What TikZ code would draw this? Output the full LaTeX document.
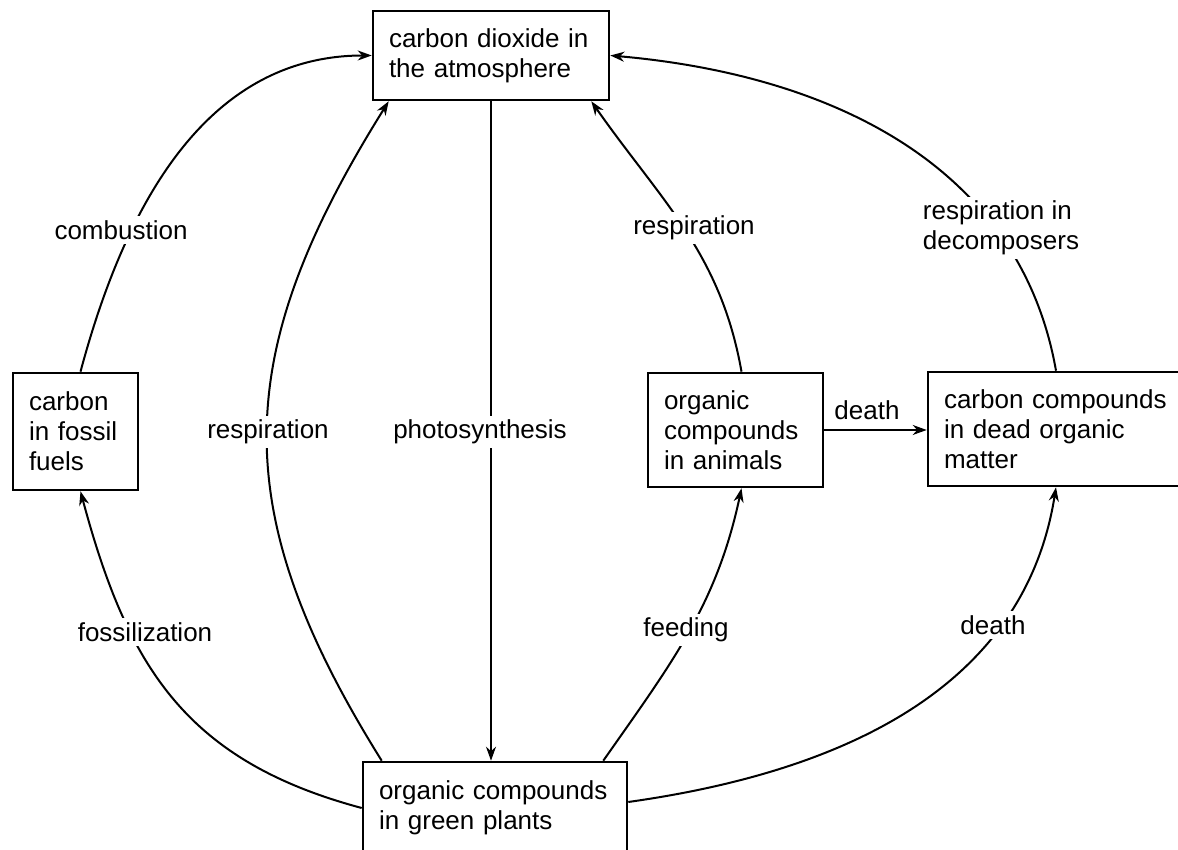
\documentclass[tikz,border=0pt]{standalone}
\usepackage{fontspec}
\setmainfont{Liberation Sans}
\usetikzlibrary{arrows.meta,calc}

\tikzset{
  box/.style={draw, line width=1.3pt, align=left, inner xsep=8pt, inner ysep=0pt},
  flow/.style={line width=1pt, -{Stealth[length=7pt,width=5pt]}},
  lbl/.style={fill=white, inner sep=2pt, align=left}
}

\begin{document}
\begin{tikzpicture}[x=0.5pt, y=0.5pt, font=\fontsize{13}{15}\selectfont]
            \useasboundingbox (0,0) rectangle (1178,850);
            \clip (0,0) rectangle (1178,850);

            % the five stores of carbon
            \node[box, text width=102pt, minimum height=44.5pt] (co2) at (491,794.5) {carbon dioxide in\\the atmosphere};
            \node[box, text width=46.5pt, minimum height=58.5pt] (fossil) at (75.5,418.5) {carbon\\in fossil\\fuels};
            \node[box, text width=71.5pt, minimum height=57pt] (animals) at (735.5,420) {organic\\compounds\\in animals};
            \node[box, text width=112pt, minimum height=57pt] (dead) at (1056,421) {carbon compounds\\in dead organic\\matter};
            \node[box, text width=116pt, minimum height=46pt] (plants) at (495,42) {organic compounds\\in green plants};

            % flows
            \draw[flow] ($(fossil.north)+(5,0)$) to[out=75, in=180] (co2.west);
            \draw[flow] ($(plants.north west)+(20,0)$) to[out=122, in=238, looseness=1.15] ($(co2.south west)+(17,0)$);
            \draw[flow] (co2.south) -- (co2.south |- plants.north);
            \draw[flow] ($(animals.north)+(6,0)$) to[out=100, in=305] ($(co2.south east)+(-19,0)$);
            \draw[flow] (dead.north) to[out=100, in=-5] (co2.east);
            \draw[flow] (animals.east) -- (animals.east -| dead.west);
            \draw[flow] (plants.west) to[out=165, in=285, looseness=1.1] ($(fossil.south)+(5,0)$);
            \draw[flow] ($(plants.north east)+(-25,0)$) to[out=55, in=258] ($(animals.south)+(6,0)$);
            \draw[flow] ($(plants.east)+(0,6)$) to[out=8, in=261] (dead.south);

            % labels on the flows
            \node[lbl] (lcomb) at (121,620) {combustion};
            \node[lbl] (lresp1) at (268,418) {respiration};
            \node[lbl] (lphoto) at (480,418) {photosynthesis};
            \node[lbl] (lresp2) at (694,622) {respiration};
            \node[lbl] (ldecomp) at (1001,622) {respiration in\\decomposers};
            \node (ldeath1) at (867,440) {death};
            \node[lbl] (lfossil) at (145,218) {fossilization};
            \node[lbl] (lfeed) at (686,220) {feeding};
            \node[lbl] (ldeath2) at (993,225) {death};
        \end{tikzpicture}
\end{document}
